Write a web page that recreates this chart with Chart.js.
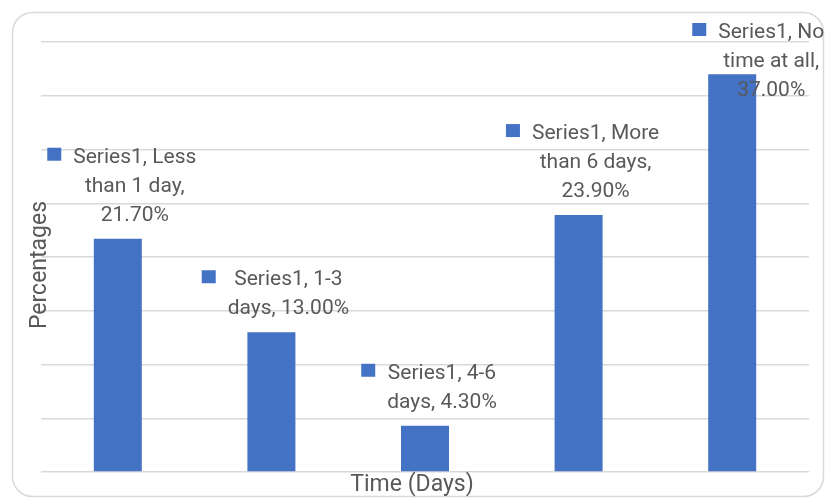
<!DOCTYPE html>
<html>
<head>
<meta charset="utf-8">
<script src="https://cdn.jsdelivr.net/npm/chart.js@4"></script>
<style>
  html, body { margin: 0; padding: 0; background: #ffffff; }
  #wrap { width: 825px; height: 499px; }
</style>
</head>
<body>
<div id="wrap"><canvas id="chart" width="825" height="499"></canvas></div>
<script>
// Survey answers: time spent, share of respondents (%)
const seriesName = 'Series1';
const categories = ['Less than 1 day', '1-3 days', '4-6 days', 'More than 6 days', 'No time at all'];
const values = [21.7, 13.0, 4.3, 23.9, 37.0];
const xTitle = 'Time (Days)';
const yTitle = 'Percentages';

const FONT = 'Roboto, "Liberation Sans", sans-serif';
const TEXT_COLOR = '#595959';
const BAR_COLOR = '#4472C4';
const GRID_COLOR = '#d9d9d9';

function wrapWords(ctx, text, maxW) {
  const words = text.split(' ');
  const lines = [];
  let cur = '';
  for (const w of words) {
    const test = cur ? cur + ' ' + w : w;
    if (cur && ctx.measureText(test).width > maxW) {
      lines.push(cur);
      cur = w;
    } else {
      cur = test;
    }
  }
  if (cur) lines.push(cur);
  return lines;
}

// Rounded frame around the whole chart
const framePlugin = {
  id: 'frame',
  beforeDraw(chart) {
    const ctx = chart.ctx;
    ctx.save();
    ctx.fillStyle = '#ffffff';
    ctx.fillRect(0, 0, chart.width, chart.height);
    ctx.beginPath();
    ctx.roundRect(12.5, 12.5, 811, 484, 20);
    ctx.strokeStyle = GRID_COLOR;
    ctx.lineWidth = 1.5;
    ctx.stroke();
    ctx.restore();
  }
};

// Data labels with a legend key, like "Series1, <category>, <value>%"
const dataLabelPlugin = {
  id: 'keyedLabels',
  afterDatasetsDraw(chart, args, opts) {
    const ctx = chart.ctx;
    const meta = chart.getDatasetMeta(0);
    const area = chart.chartArea;
    ctx.save();
    ctx.font = opts.fontSize + 'px ' + FONT;
    ctx.fillStyle = TEXT_COLOR;
    ctx.textBaseline = 'alphabetic';
    ctx.textAlign = 'center';
    meta.data.forEach((bar, i) => {
      const text = seriesName + ', ' + categories[i] + ', ' + values[i].toFixed(2) + '%';
      const lines = wrapWords(ctx, text, opts.wrapWidth);
      const textW = Math.max(...lines.map(l => ctx.measureText(l).width));
      const cx = bar.x + opts.shift + (opts.nudgeX[i] || 0);
      let firstBase = bar.y - opts.gap - (lines.length - 1) * opts.lineHeight;
      firstBase = Math.max(firstBase, area.top - 4);
      lines.forEach((l, k) => {
        ctx.fillText(l, cx, firstBase + k * opts.lineHeight);
      });
      ctx.fillStyle = BAR_COLOR;
      ctx.fillRect(cx - textW / 2 - 26, firstBase - 15, 14, 13);
      ctx.fillStyle = TEXT_COLOR;
    });
    ctx.restore();
  }
};

// Axis titles
const titlePlugin = {
  id: 'axisTitles',
  afterDraw(chart) {
    const ctx = chart.ctx;
    const area = chart.chartArea;
    ctx.save();
    ctx.font = '23px ' + FONT;
    ctx.fillStyle = TEXT_COLOR;
    ctx.textAlign = 'center';
    ctx.textBaseline = 'alphabetic';
    ctx.fillText(xTitle, area.left + (area.right - area.left) / 2 - 13, area.bottom + 19);
    ctx.translate(46, (area.top + area.bottom) / 2 + 8);
    ctx.rotate(-Math.PI / 2);
    ctx.fillText(yTitle, 0, 0);
    ctx.restore();
  }
};

new Chart(document.getElementById('chart'), {
  type: 'bar',
  data: {
    labels: categories,
    datasets: [{
      label: seriesName,
      data: values,
      backgroundColor: BAR_COLOR,
      borderWidth: 0,
      barPercentage: 0.3125,
      categoryPercentage: 1.0
    }]
  },
  options: {
    responsive: false,
    animation: false,
    devicePixelRatio: 1,
    layout: { padding: { left: 41, right: 16, top: 42, bottom: 27 } },
    plugins: {
      legend: { display: false },
      tooltip: { enabled: false },
      keyedLabels: {
        fontSize: 21,
        lineHeight: 29,
        gap: 18,
        wrapWidth: 140,
        shift: 17,
        nudgeX: [0, 0, 0, 0, 22]
      }
    },
    scales: {
      x: {
        grid: { display: false, drawTicks: false },
        border: { display: false },
        ticks: { display: false }
      },
      y: {
        min: 0,
        max: 40,
        ticks: { display: false, stepSize: 5 },
        grid: { color: GRID_COLOR, lineWidth: 1.5, drawTicks: false },
        border: { display: false }
      }
    }
  },
  plugins: [framePlugin, dataLabelPlugin, titlePlugin]
});
</script>
</body>
</html>
